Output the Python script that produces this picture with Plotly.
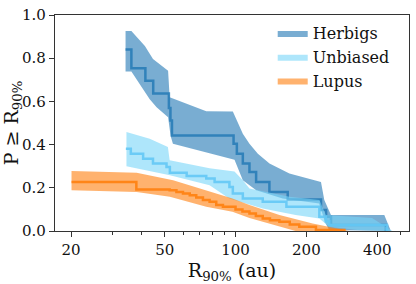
import plotly.graph_objects as go

# ---- data ----
herb_x = [34.1, 36.1, 41.4, 44.7, 52.1, 52.9, 53.7, 98.1, 101.3, 107.4, 114.6, 122.3, 139.3, 166.6, 230.8, 242.5, 254.5, 434.5]
herb_y = [0.84, 0.753, 0.696, 0.637, 0.570, 0.511, 0.442, 0.404, 0.358, 0.312, 0.273, 0.227, 0.181, 0.146, 0.097, 0.066, 0.028, 0.0]
herb_up_x = [34.1, 36.1, 41.2, 44.6, 51.7, 52.5, 75.1, 97.4, 107.4, 114.6, 124.4, 139.4, 169.4, 230.7, 238.3, 254.4, 428.6, 457]
herb_up_y = [0.926, 0.926, 0.857, 0.796, 0.742, 0.619, 0.554, 0.553, 0.45, 0.404, 0.358, 0.312, 0.266, 0.227, 0.143, 0.074, 0.074, 0.0]
herb_lo_x = [34.1, 36.1, 43.2, 46.2, 51.7, 53.0, 54.2, 77.6, 99, 107.4, 122.4, 158.6, 227, 240, 250, 457]
herb_lo_y = [0.738, 0.738, 0.61, 0.573, 0.527, 0.44, 0.404, 0.36, 0.33, 0.235, 0.189, 0.15, 0.127, 0.04, 0.005, 0.0]

unb_x = [34.2, 35.9, 40.5, 44.6, 50.9, 52.6, 62, 75.1, 81.5, 94.2, 97.4, 107.4, 130.5, 164.5, 227, 242, 250, 440]
unb_y = [0.381, 0.358, 0.335, 0.312, 0.296, 0.27, 0.255, 0.243, 0.227, 0.204, 0.174, 0.151, 0.135, 0.112, 0.066, 0.045, 0.028, 0.0]
unb_up_x = [34.4, 43.2, 51.6, 52.5, 77.6, 99, 107.4, 114.6, 169.5, 227, 242, 380, 464]
unb_up_y = [0.458, 0.427, 0.389, 0.327, 0.29, 0.275, 0.235, 0.197, 0.158, 0.143, 0.074, 0.06, 0.0]
unb_lo_x = [34.4, 52.6, 77.6, 94, 130.5, 180, 227, 250, 330, 464]
unb_lo_y = [0.30, 0.258, 0.212, 0.15, 0.104, 0.074, 0.058, 0.02, 0.005, 0.0]

lup_x = [20.1, 37.9, 52.5, 56.1, 59.8, 63.9, 68.1, 72.7, 77.6, 82.8, 88.4, 100, 107, 114.6, 122, 130.5, 140, 153.6, 170, 186.6, 219.6, 290]
lup_y = [0.227, 0.192, 0.189, 0.181, 0.174, 0.166, 0.155, 0.143, 0.135, 0.12, 0.112, 0.10, 0.09, 0.081, 0.07, 0.058, 0.05, 0.043, 0.03, 0.02, 0.005, 0.0]
lup_up_x = [20.1, 38, 54.3, 75.1, 97, 114.6, 153.6, 212.6, 275, 304]
lup_up_y = [0.278, 0.27, 0.235, 0.189, 0.15, 0.12, 0.074, 0.035, 0.012, 0.0]
lup_lo_x = [20.1, 38, 52.6, 75.1, 97, 114.6, 153.6, 180, 304]
lup_lo_y = [0.189, 0.181, 0.158, 0.112, 0.089, 0.06, 0.02, 0.0, 0.0]

series = [
    ("Herbigs", herb_x, herb_y, herb_up_x, herb_up_y, herb_lo_x, herb_lo_y,
     "rgba(31,119,180,0.6)", "rgba(31,119,180,0.8)"),
    ("Unbiased", unb_x, unb_y, unb_up_x, unb_up_y, unb_lo_x, unb_lo_y,
     "rgba(120,213,248,0.6)", "rgba(100,200,245,0.9)"),
    ("Lupus", lup_x, lup_y, lup_up_x, lup_up_y, lup_lo_x, lup_lo_y,
     "rgba(255,127,14,0.6)", "rgba(255,127,14,0.9)"),
]

fig = go.Figure()
for name, lx, ly, ux, uy, dx, dy, fcol, lcol in series:
    px = list(ux) + list(reversed(dx))
    py = list(uy) + list(reversed(dy))
    fig.add_trace(go.Scatter(x=px, y=py, fill="toself", fillcolor=fcol,
                             line=dict(width=0), mode="lines", name=name,
                             hoverinfo="skip"))
    fig.add_trace(go.Scatter(x=lx, y=ly, mode="lines", line=dict(color=lcol, width=2.5, shape="hv"),
                             showlegend=False))

font = "DejaVu Serif, serif"
axis_common = dict(showline=True, linecolor="#333", linewidth=1.2, mirror=True,
                   ticks="outside", ticklen=5, tickcolor="#333", showgrid=False,
                   zeroline=False, ticklabeloverflow="allow",
                   tickfont=dict(family=font, size=15, color="#111"))

fig.update_layout(
    width=416, height=284,
    margin=dict(l=55, r=6, t=13, b=53),
    plot_bgcolor="white", paper_bgcolor="white",
    font=dict(family=font, color="#111"),
    showlegend=True,
    legend=dict(x=0.615, y=0.995, xanchor="left", yanchor="top",
                font=dict(family=font, size=16, color="#111"),
                bgcolor="rgba(0,0,0,0)", tracegroupgap=0),
    xaxis=dict(type="log", range=[1.233, 2.737],
               tickvals=[20, 50, 100, 200, 400], ticktext=["20", "50", "100", "200", "400"],
               minor=dict(tickvals=[30, 40, 60, 70, 80, 90, 300, 500], ticks="outside",
                          ticklen=3, tickcolor="#333"),
               title=dict(text="R<sub>90%</sub> (au)", font=dict(family=font, size=19), standoff=2),
               **axis_common),
    yaxis=dict(range=[0, 1.0], tickvals=[0, 0.2, 0.4, 0.6, 0.8, 1.0], tickformat=".1f",
               title=dict(text="P ≥ R<sub>90%</sub>", font=dict(family=font, size=19), standoff=2),
               **axis_common),
)

fig.write_html("out.html", config={"displayModeBar": False},
               post_script="document.body.style.margin='0';")
